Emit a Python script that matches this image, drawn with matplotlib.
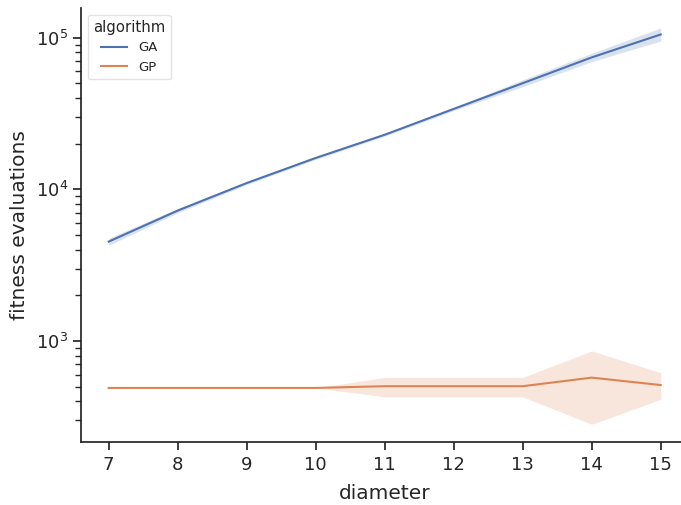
import matplotlib
matplotlib.use("Agg")
import matplotlib.pyplot as plt
import numpy as np

diameter = [7, 8, 9, 10, 11, 12, 13, 14, 15]
algorithms = ["GA", "GP"]

ga_mean = [4520, 7240, 11000, 16100, 22900, 33900, 50100, 74100, 105000]
ga_low = [4280, 7000, 10750, 15750, 22450, 33100, 47500, 69500, 95000]
ga_high = [4760, 7480, 11250, 16450, 23350, 34700, 52800, 79000, 116000]

gp_mean = [490, 490, 490, 490, 503, 503, 503, 573, 512]
gp_low = [490, 490, 490, 490, 428, 428, 428, 282, 412]
gp_high = [490, 490, 490, 490, 575, 575, 575, 859, 618]

colors = ["#4c72b0", "#dd8452"]

plt.rcParams.update({
    "font.family": ["DejaVu Sans"],
    "axes.linewidth": 1.25,
    "xtick.major.width": 1.25,
    "ytick.major.width": 1.25,
    "xtick.minor.width": 1.0,
    "ytick.minor.width": 1.0,
    "xtick.major.size": 6,
    "ytick.major.size": 6,
    "xtick.minor.size": 4,
    "ytick.minor.size": 4,
    "axes.edgecolor": "#262626",
    "xtick.color": "#262626",
    "ytick.color": "#262626",
    "text.color": "#262626",
    "axes.labelcolor": "#262626",
})

fig = plt.figure(figsize=(6.81, 5.05), dpi=100)
ax = fig.add_axes([0.1191, 0.1238, 0.8916, 0.8604])

series = [(ga_mean, ga_low, ga_high), (gp_mean, gp_low, gp_high)]
for name, (m, lo, hi), c in zip(algorithms, series, colors):
    ax.plot(diameter, m, color=c, lw=1.5, label=name)
    ax.fill_between(diameter, lo, hi, color=c, alpha=0.2, lw=0)

ax.set_yscale("log")
ax.set_xlim(6.6, 15.4)
ax.set_ylim(214, 157000)
ax.set_xticks(diameter)
ax.tick_params(axis="both", which="major", labelsize=13)
ax.set_xlabel("diameter", fontsize=14.5, labelpad=7.5)
ax.set_ylabel("fitness evaluations", fontsize=14.5, labelpad=5)
for s in ["top", "right"]:
    ax.spines[s].set_visible(False)

leg = ax.legend(title="algorithm", loc="upper left", fontsize=9.5,
                title_fontsize=10.7, bbox_to_anchor=(0.0, 1.0),
                borderaxespad=0.5)
leg.get_frame().set_edgecolor("#dddddd")

fig.savefig("out.png", dpi=100)
